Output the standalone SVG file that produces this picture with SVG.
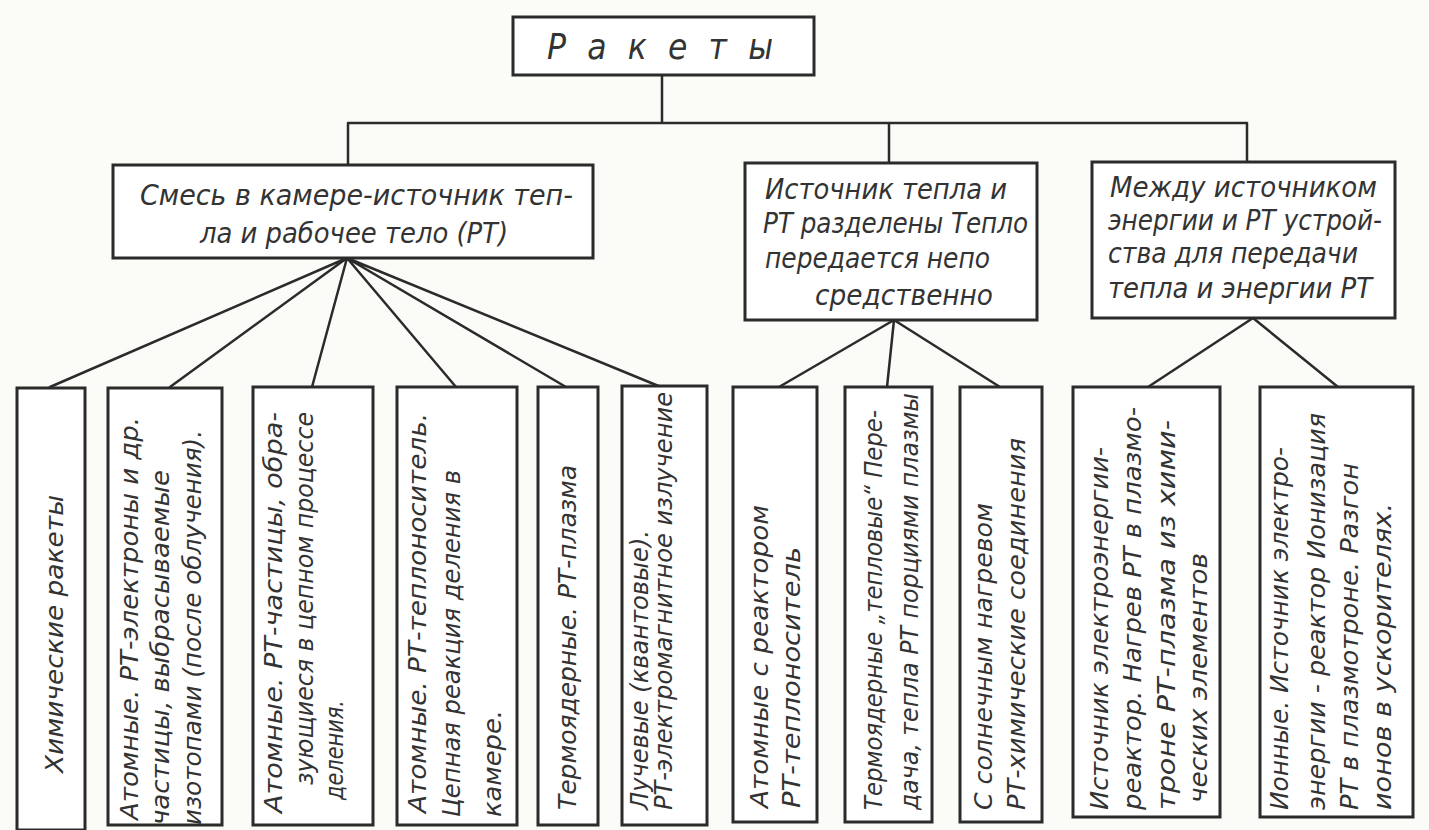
<svg xmlns="http://www.w3.org/2000/svg" width="1429" height="830" viewBox="0 0 1429 830">
<style>
.bg{fill:#fbfbf8}
.box{fill:#ffffff;stroke:#2b2b2b;stroke-width:3}
.ln{fill:none;stroke:#2b2b2b;stroke-width:2.5;stroke-linecap:round}
text{font-family:"DejaVu Sans Condensed","DejaVu Sans","Liberation Sans",sans-serif;font-style:italic;fill:#333333}
.t1{font-size:35px}
.t2{font-size:28px}
.t3{font-size:24px}
</style>
<rect class="bg" x="0" y="0" width="1429" height="830"/>
<g id="connectors">
<path class="ln" d="M662 75V123M348 123H1247M348 123V165M889 123V163M1247 123V162"/>
<path class="ln" d="M347 258L50 387M347 258L170 387M347 258L312 387M347 258L456 387M347 258L566 387M347 258L661 387"/>
<path class="ln" d="M894 320L779 387M894 320L887 387M894 320L1000 387"/>
<path class="ln" d="M1253 318L1148 387M1253 318L1338 387"/>
</g>
<g id="root">
<rect class="box" x="513" y="17" width="301" height="58"/>
<text class="t1" x="547" y="59" textLength="226" lengthAdjust="spacing">Ракеты</text>
</g>
<g id="mix">
<rect class="box" x="113" y="165" width="480" height="93"/>
<text class="t2" x="140" y="205" textLength="433" lengthAdjust="spacingAndGlyphs">Смесь в камере-источник теп-</text>
<text class="t2" x="200" y="243" textLength="308" lengthAdjust="spacingAndGlyphs">ла и рабочее тело (РТ)</text>
</g>
<g id="separated">
<rect class="box" x="745" y="163" width="292" height="157"/>
<text class="t2" x="765" y="199" textLength="242" lengthAdjust="spacingAndGlyphs">Источник тепла и</text>
<text class="t2" x="763" y="233" textLength="265" lengthAdjust="spacingAndGlyphs">РТ разделены Тепло</text>
<text class="t2" x="765" y="268" textLength="225" lengthAdjust="spacingAndGlyphs">передается непо</text>
<text class="t2" x="815" y="305" textLength="178" lengthAdjust="spacingAndGlyphs">средственно</text>
</g>
<g id="devices">
<rect class="box" x="1092" y="162" width="303" height="156"/>
<text class="t2" x="1110" y="197" textLength="267" lengthAdjust="spacingAndGlyphs">Между источником</text>
<text class="t2" x="1108" y="230" textLength="274" lengthAdjust="spacingAndGlyphs">энергии  и РТ устрой-</text>
<text class="t2" x="1108" y="263" textLength="250" lengthAdjust="spacingAndGlyphs">ства для передачи</text>
<text class="t2" x="1108" y="298" textLength="264" lengthAdjust="spacingAndGlyphs">тепла и энергии РТ</text>
</g>
<g id="b1">
<rect class="box" x="17" y="388" width="68" height="442"/>
<text class="t3" transform="translate(63 773) rotate(-90)" textLength="278" lengthAdjust="spacingAndGlyphs">Химические ракеты</text>
</g>
<g id="b2">
<rect class="box" x="108" y="388" width="114" height="437"/>
<text class="t3" transform="translate(138 820) rotate(-90)" textLength="403" lengthAdjust="spacingAndGlyphs">Атомные. РТ-электроны и др.</text>
<text class="t3" transform="translate(169 825) rotate(-90)" textLength="355" lengthAdjust="spacingAndGlyphs">частицы, выбрасываемые</text>
<text class="t3" transform="translate(201 825) rotate(-90)" textLength="395" lengthAdjust="spacingAndGlyphs">изотопами (после облучения).</text>
</g>
<g id="b3">
<rect class="box" x="253" y="387" width="120" height="438"/>
<text class="t3" transform="translate(282 813) rotate(-90)" textLength="401" lengthAdjust="spacingAndGlyphs">Атомные. РТ-частицы, обра-</text>
<text class="t3" transform="translate(313 785) rotate(-90)" textLength="373" lengthAdjust="spacingAndGlyphs">зующиеся в цепном процессе</text>
<text class="t3" transform="translate(343 800) rotate(-90)" textLength="100" lengthAdjust="spacingAndGlyphs">деления.</text>
</g>
<g id="b4">
<rect class="box" x="397" y="387" width="120" height="438"/>
<text class="t3" transform="translate(426 813) rotate(-90)" textLength="400" lengthAdjust="spacingAndGlyphs">Атомные. РТ-теплоноситель.</text>
<text class="t3" transform="translate(460 817) rotate(-90)" textLength="347" lengthAdjust="spacingAndGlyphs">Цепная реакция деления в</text>
<text class="t3" transform="translate(501 817) rotate(-90)" textLength="107" lengthAdjust="spacingAndGlyphs">камере.</text>
</g>
<g id="b5">
<rect class="box" x="538" y="387" width="60" height="438"/>
<text class="t3" transform="translate(576 810) rotate(-90)" textLength="345" lengthAdjust="spacingAndGlyphs">Термоядерные. РТ-плазма</text>
</g>
<g id="b6">
<rect class="box" x="622" y="386" width="85" height="439"/>
<text class="t3" transform="translate(648 810) rotate(-90)" textLength="280" lengthAdjust="spacingAndGlyphs">Лучевые (квантовые).</text>
<text class="t3" transform="translate(672 810) rotate(-90)" textLength="418" lengthAdjust="spacingAndGlyphs">РТ-электромагнитное излучение</text>
</g>
<g id="b7">
<rect class="box" x="733" y="387" width="84" height="435"/>
<text class="t3" transform="translate(768 808) rotate(-90)" textLength="303" lengthAdjust="spacingAndGlyphs">Атомные с реактором</text>
<text class="t3" transform="translate(800 808) rotate(-90)" textLength="261" lengthAdjust="spacingAndGlyphs">РТ-теплоноситель</text>
</g>
<g id="b8">
<rect class="box" x="845" y="387" width="87" height="435"/>
<text class="t3" transform="translate(882 810) rotate(-90)" textLength="400" lengthAdjust="spacingAndGlyphs">Термоядерные „тепловые“ Пере-</text>
<text class="t3" transform="translate(918 810) rotate(-90)" textLength="417" lengthAdjust="spacingAndGlyphs">дача, тепла РТ порциями плазмы</text>
</g>
<g id="b9">
<rect class="box" x="960" y="387" width="82" height="435"/>
<text class="t3" transform="translate(992 810) rotate(-90)" textLength="307" lengthAdjust="spacingAndGlyphs">С солнечным нагревом</text>
<text class="t3" transform="translate(1025 810) rotate(-90)" textLength="372" lengthAdjust="spacingAndGlyphs">РТ-химические соединения</text>
</g>
<g id="b10">
<rect class="box" x="1073" y="387" width="147" height="430"/>
<text class="t3" transform="translate(1108 810) rotate(-90)" textLength="363" lengthAdjust="spacingAndGlyphs">Источник электроэнергии-</text>
<text class="t3" transform="translate(1141 810) rotate(-90)" textLength="403" lengthAdjust="spacingAndGlyphs">реактор. Нагрев РТ в плазмо-</text>
<text class="t3" transform="translate(1175 810) rotate(-90)" textLength="390" lengthAdjust="spacingAndGlyphs">троне РТ-плазма из хими-</text>
<text class="t3" transform="translate(1207 803) rotate(-90)" textLength="250" lengthAdjust="spacingAndGlyphs">ческих элементов</text>
</g>
<g id="b11">
<rect class="box" x="1260" y="387" width="153" height="430"/>
<text class="t3" transform="translate(1288 810) rotate(-90)" textLength="363" lengthAdjust="spacingAndGlyphs">Ионные. Источник электро-</text>
<text class="t3" transform="translate(1325 810) rotate(-90)" textLength="397" lengthAdjust="spacingAndGlyphs">энергии - реактор Ионизация</text>
<text class="t3" transform="translate(1358 810) rotate(-90)" textLength="347" lengthAdjust="spacingAndGlyphs">РТ в плазмотроне. Разгон</text>
<text class="t3" transform="translate(1391 810) rotate(-90)" textLength="307" lengthAdjust="spacingAndGlyphs">ионов в ускорителях.</text>
</g>
</svg>
